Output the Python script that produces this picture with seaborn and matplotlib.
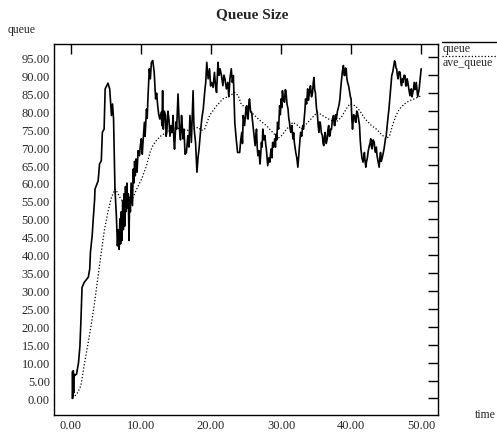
import numpy as np
import pandas as pd
import matplotlib
matplotlib.use("Agg")
import matplotlib.pyplot as plt
import seaborn as sns
from matplotlib.lines import Line2D
from matplotlib.ticker import FormatStrFormatter

# ─── Data ────────────────────────────────────────────────────────────────────
queue_t = [0.20, 0.25, 0.30, 0.35, 0.40, 0.45, 0.50, 0.82, 1.10, 1.30, 1.45, 1.60,
           1.90, 2.50, 2.70, 2.80, 3.05, 3.20, 3.40, 3.45, 3.90, 4.10, 4.35, 4.50,
           4.75, 4.90, 5.30, 5.55, 5.80, 5.95, 6.10, 6.30, 6.50, 6.65, 6.80, 6.90,
           7.00, 7.10, 7.20, 7.30, 7.40, 7.50, 7.60, 7.70, 7.80, 7.90, 8.00, 8.10,
           8.20, 8.30, 8.40, 8.50, 8.60, 8.80, 8.90, 9.00, 9.10, 9.20, 9.30, 9.45,
           9.60, 9.80, 9.90, 10.05, 10.20, 10.30, 10.40, 10.50, 10.60, 10.80, 10.90, 11.00,
           11.20, 11.35, 11.50, 11.70, 11.90, 12.10, 12.25, 12.40, 12.55, 12.70, 12.90, 13.00,
           13.10, 13.20, 13.35, 13.50, 13.60, 13.70, 13.85, 14.00, 14.15, 14.30, 14.45, 14.60,
           14.70, 14.80, 15.00, 15.10, 15.30, 15.50, 15.65, 15.80, 15.90, 16.00, 16.15, 16.30,
           16.50, 16.70, 16.85, 17.00, 17.20, 17.45, 17.55, 17.65, 17.80, 18.00, 18.15, 18.30,
           18.50, 18.70, 18.90, 19.10, 19.25, 19.40, 19.60, 19.80, 19.95, 20.10, 20.30, 20.50,
           20.65, 20.80, 21.00, 21.15, 21.30, 21.50, 21.70, 21.85, 22.00, 22.20, 22.40, 22.55,
           22.70, 22.90, 23.05, 23.20, 23.40, 23.60, 23.80, 24.10, 24.25, 24.40, 24.50, 24.60,
           24.80, 25.00, 25.10, 25.20, 25.30, 25.40, 25.50, 25.65, 25.80, 26.00, 26.15, 26.30,
           26.40, 26.50, 26.60, 26.70, 26.85, 27.00, 27.10, 27.20, 27.30, 27.40, 27.55, 27.70,
           27.80, 27.90, 28.00, 28.10, 28.25, 28.40, 28.50, 28.60, 28.70, 28.80, 28.95, 29.10,
           29.20, 29.30, 29.40, 29.50, 29.65, 29.80, 29.90, 30.00, 30.10, 30.20, 30.35, 30.50,
           30.60, 30.70, 30.85, 31.00, 31.10, 31.20, 31.30, 31.40, 31.55, 31.70, 31.80, 31.90,
           32.00, 32.10, 32.25, 32.40, 32.50, 32.60, 32.70, 32.80, 32.95, 33.10, 33.20, 33.30,
           33.40, 33.50, 33.65, 33.80, 33.90, 34.00, 34.10, 34.20, 34.35, 34.50, 34.60, 34.70,
           34.80, 34.90, 35.05, 35.20, 35.30, 35.40, 35.50, 35.60, 35.75, 35.90, 36.00, 36.10,
           36.20, 36.30, 36.45, 36.60, 36.70, 36.80, 36.90, 37.00, 37.10, 37.20, 37.35, 37.50,
           37.60, 37.70, 37.80, 37.90, 38.05, 38.20, 38.30, 38.40, 38.50, 38.60, 38.75, 38.90,
           39.00, 39.10, 39.20, 39.30, 39.40, 39.50, 39.65, 39.80, 39.90, 40.00, 40.10, 40.20,
           40.35, 40.50, 40.60, 40.70, 40.80, 40.90, 41.05, 41.20, 41.30, 41.40, 41.55, 41.70,
           41.80, 41.90, 42.00, 42.10, 42.20, 42.30, 42.45, 42.60, 42.70, 42.80, 42.90, 43.00,
           43.15, 43.30, 43.40, 43.50, 43.60, 43.70, 43.85, 44.00, 44.10, 44.20, 44.30, 44.40,
           44.55, 44.70, 44.80, 44.90, 45.00, 45.10, 45.25, 45.40, 45.50, 45.60, 45.70, 45.80,
           45.95, 46.10, 46.20, 46.30, 46.40, 46.50, 46.60, 46.70, 46.85, 47.00, 47.10, 47.20,
           47.30, 47.40, 47.55, 47.70, 47.80, 47.90, 48.00, 48.10, 48.25, 48.40, 48.50, 48.60,
           48.70, 48.80, 48.90, 49.00, 49.15, 49.30, 49.50, 49.70, 50.00]
queue_v = [0.0, 7.5, 0.5, 7.7, 1.5, 6.8, 6.3, 6.8, 10.0, 14.6, 22.1, 30.9,
           32.3, 33.8, 36.1, 40.7, 45.4, 50.0, 55.5, 58.3, 60.6, 65.3, 66.2, 74.1,
           75.0, 86.2, 87.8, 86.2, 78.8, 82.0, 77.8, 58.3, 50.9, 42.5, 47.0, 41.5,
           50.0, 43.0, 52.0, 44.0, 55.0, 47.0, 57.0, 48.0, 59.0, 52.0, 60.0, 53.0,
           57.0, 44.0, 56.0, 52.0, 60.0, 53.7, 63.9, 60.0, 66.0, 62.0, 66.7, 63.0,
           69.0, 67.6, 70.0, 72.3, 68.0, 71.3, 74.0, 76.9, 73.0, 80.6, 78.0, 83.4,
           91.8, 89.0, 93.6, 94.1, 90.8, 83.4, 85.0, 81.5, 79.0, 77.8, 79.7, 76.0,
           85.7, 75.0, 80.0, 78.8, 73.0, 74.1, 80.0, 77.8, 73.0, 76.0, 74.0, 78.8,
           72.3, 69.4, 77.0, 75.0, 84.8, 75.0, 72.0, 78.8, 76.0, 72.3, 75.0, 68.0,
           68.5, 73.2, 70.0, 78.8, 71.3, 85.7, 76.9, 74.0, 71.3, 63.0, 67.0, 69.5,
           74.1, 78.0, 80.6, 85.2, 88.0, 93.6, 89.0, 91.8, 87.0, 88.0, 86.6, 90.8,
           87.0, 85.2, 93.6, 90.0, 91.8, 89.9, 87.1, 90.0, 89.0, 86.2, 88.0, 84.0,
           89.0, 91.8, 88.0, 89.9, 76.9, 72.3, 68.5, 68.5, 72.0, 74.1, 71.0, 78.8,
           76.0, 81.0, 81.5, 78.0, 77.8, 82.0, 83.4, 80.0, 79.7, 76.0, 73.0, 70.4,
           73.0, 75.0, 70.0, 67.6, 69.0, 65.3, 68.0, 71.3, 70.0, 75.0, 72.0, 73.2,
           71.0, 69.5, 67.0, 64.8, 67.0, 65.8, 68.0, 69.5, 67.0, 71.3, 70.0, 72.3,
           70.0, 73.6, 72.0, 76.9, 75.0, 81.5, 79.0, 83.4, 81.0, 85.7, 83.0, 82.5,
           86.0, 85.7, 82.0, 80.6, 78.0, 76.9, 75.0, 74.1, 76.0, 72.3, 74.0, 71.3,
           70.0, 68.5, 67.0, 64.4, 67.0, 69.5, 72.0, 74.1, 73.0, 76.0, 75.0, 77.8,
           80.0, 83.4, 82.0, 86.2, 83.0, 84.3, 86.0, 87.1, 84.0, 85.2, 88.0, 89.4,
           86.0, 85.2, 81.0, 78.8, 76.0, 74.1, 77.0, 76.9, 74.0, 73.2, 71.0, 70.4,
           73.0, 74.1, 71.0, 72.3, 75.0, 76.0, 73.0, 73.2, 75.0, 75.0, 78.0, 78.8,
           76.0, 76.0, 79.0, 77.8, 80.0, 81.1, 82.0, 83.4, 86.0, 88.0, 91.0, 92.7,
           90.0, 89.9, 92.0, 91.8, 89.0, 88.0, 87.0, 85.2, 84.0, 83.4, 78.0, 75.0,
           79.0, 78.8, 77.0, 76.9, 80.0, 79.7, 78.0, 76.0, 72.0, 69.5, 67.0, 65.8,
           67.0, 68.5, 66.0, 64.4, 66.0, 66.7, 69.0, 70.4, 71.0, 72.3, 70.0, 69.5,
           72.0, 71.3, 69.0, 68.5, 70.0, 67.6, 66.0, 64.4, 67.0, 68.5, 66.0, 66.7,
           68.0, 69.5, 71.0, 72.3, 73.0, 75.0, 78.0, 80.6, 83.0, 85.2, 88.0, 89.9,
           91.0, 92.7, 94.0, 93.6, 92.0, 91.8, 90.0, 89.0, 91.0, 90.8, 88.0, 87.1,
           89.0, 88.0, 90.0, 89.9, 87.0, 87.1, 89.0, 88.0, 86.0, 84.3, 86.0, 86.2,
           84.0, 85.2, 86.0, 88.0, 86.0, 88.0, 84.0, 86.0, 91.8]

ave_t = [0.3, 1.0, 1.45, 1.9, 2.4, 2.9, 3.4, 3.9, 4.3, 4.8, 5.3, 5.8,
         6.3, 6.5, 7.0, 7.5, 8.2, 8.7, 9.4, 10.1, 10.8, 11.3, 11.7, 12.2,
         12.9, 13.6, 14.6, 15.5, 16.5, 17.4, 18.2, 18.6, 19.1, 19.8, 20.8, 21.7,
         22.7, 23.4, 23.9, 24.3, 25.1, 26.0, 27.0, 27.9, 28.8, 29.6, 30.0, 30.8,
         31.7, 32.4, 32.9, 33.6, 34.5, 35.2, 35.9, 36.8, 37.8, 38.6, 39.3, 39.8,
         40.6, 41.2, 42.0, 42.9, 43.6, 44.3, 45.0, 45.5, 45.9, 46.4, 46.9, 47.6,
         48.3, 49.0, 50.0]
ave_v = [0.0, 1.7, 3.6, 9.2, 14.7, 20.3, 26.8, 34.2, 40.0, 47.0, 52.0, 56.0,
         58.3, 57.9, 56.0, 54.6, 54.1, 55.1, 58.3, 61.1, 64.8, 68.5, 70.4, 71.8,
         73.2, 74.1, 75.0, 75.2, 74.6, 75.0, 75.5, 74.6, 75.0, 78.8, 81.5, 83.4,
         84.3, 85.2, 84.3, 82.0, 80.6, 79.2, 77.4, 76.0, 74.1, 72.5, 73.0, 75.0,
         76.9, 76.0, 75.0, 76.4, 78.3, 79.7, 78.8, 77.8, 76.9, 78.3, 80.6, 82.0,
         81.5, 80.2, 77.8, 76.0, 75.0, 73.6, 72.3, 73.2, 76.0, 78.8, 80.6, 82.0,
         82.9, 83.4, 84.3]

x_ticks = [0, 10, 20, 30, 40, 50]
y_ticks = list(range(0, 100, 5))

# ─── Style ───────────────────────────────────────────────────────────────────
sns.set_theme(style="white")
plt.rcParams["font.family"] = ["Liberation Serif", "DejaVu Serif"]

W, H = 497, 435
fig = plt.figure(figsize=(W / 100, H / 100), dpi=100)
ax = fig.add_axes([54 / W, (H - 416) / H, (438 - 54) / W, (416 - 45) / H])

df_q = pd.DataFrame({"time": queue_t, "queue": queue_v})
df_a = pd.DataFrame({"time": ave_t, "ave_queue": ave_v})

sns.lineplot(data=df_q, x="time", y="queue", sort=False, estimator=None,
             color="black", linewidth=1.2, ax=ax)
sns.lineplot(data=df_a, x="time", y="ave_queue", sort=False, estimator=None,
             color="black", linewidth=0.9, dashes=False, ax=ax)
ax.lines[-1].set_dashes((1, 1.6))

ax.set_xlim(-2.4, 52.4)
ax.set_ylim(-4.6, 98.7)
ax.set_xticks(x_ticks)
ax.set_yticks(y_ticks)
ax.xaxis.set_major_formatter(FormatStrFormatter("%.2f"))
ax.yaxis.set_major_formatter(FormatStrFormatter("%.2f"))
ax.tick_params(axis="both", direction="in", length=7, width=1, color="black",
               labelsize=9, pad=3, top=True, right=True,
               labeltop=False, labelright=False)
ax.set_xlabel("")
ax.set_ylabel("")
for s in ax.spines.values():
    s.set_color("black")
    s.set_linewidth(1)

# titles / axis names, xgraph style
fig.text(252 / W, 1 - 15 / H, "Queue Size", ha="center", va="center",
         fontsize=11, fontweight="bold")
fig.text(8 / W, 1 - 30 / H, "queue", ha="left", va="center", fontsize=8.5)
fig.text(475 / W, 1 - 415 / H, "time", ha="left", va="center", fontsize=8.5)

# legend: line above the label
fig.add_artist(Line2D([442 / W, 1.0], [1 - 43 / H, 1 - 43 / H],
                      color="black", linewidth=1.0))
fig.text(443 / W, 1 - 49 / H, "queue", ha="left", va="center", fontsize=8.5)
fig.add_artist(Line2D([442 / W, 1.0], [1 - 57 / H, 1 - 57 / H],
                      color="black", linewidth=0.9, dashes=(1, 1.6)))
fig.text(443 / W, 1 - 63 / H, "ave_queue", ha="left", va="center", fontsize=8.5)

fig.savefig("out.png", dpi=100)
